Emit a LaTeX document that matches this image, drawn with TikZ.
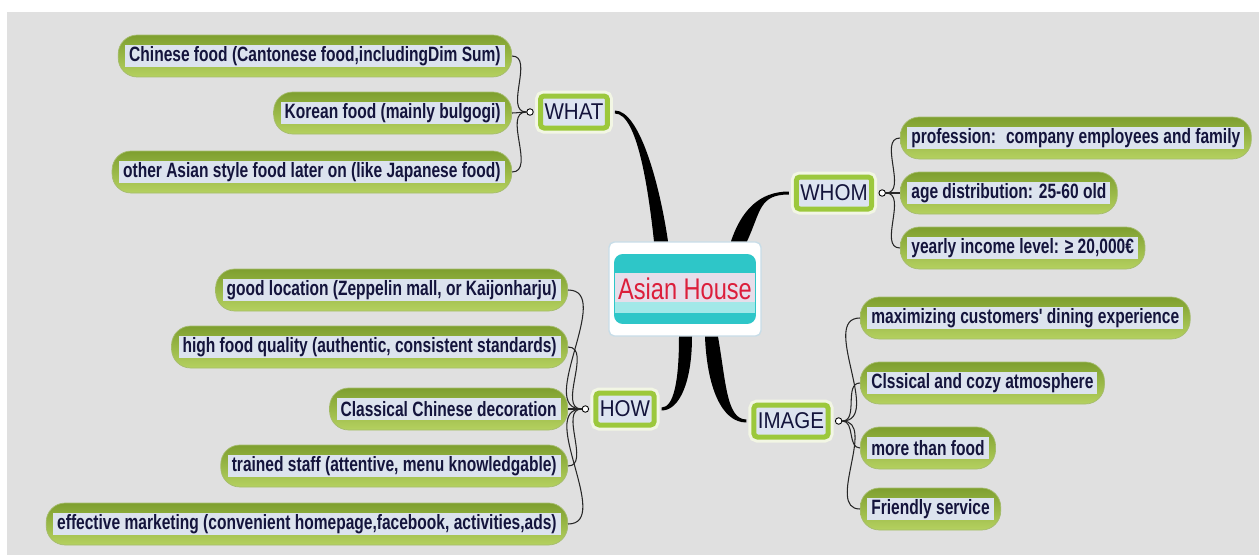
\documentclass[tikz,border=0pt]{standalone}
\usepackage{fontspec}
\usetikzlibrary{calc}
\newfontfamily\leaffont{Liberation Sans}[FakeStretch=0.75]
\newfontfamily\brfont{Liberation Sans}[FakeStretch=0.9]
\newfontfamily\hubfont{Liberation Sans}[FakeStretch=0.79]
\definecolor{bggrey}{HTML}{E0E0E0}
\definecolor{leafdark}{HTML}{7E9F2F}
\definecolor{leaflight}{HTML}{B5D160}
\definecolor{leafband}{HTML}{DCE3EE}
\definecolor{leaftext}{HTML}{14143C}
\definecolor{brgreen}{HTML}{9CC83C}
\definecolor{brframe}{HTML}{F2F6E4}
\definecolor{brfill}{HTML}{DDE4F0}
\definecolor{hubedge}{HTML}{C8DDE8}
\definecolor{hubteal}{HTML}{2EC6C8}
\definecolor{hubband}{HTML}{E6DEEA}
\definecolor{hubpale}{HTML}{A2E8E8}
\definecolor{hubred}{HTML}{DC1E3C}
\tikzset{leaf/.style={rounded corners=0.38cm, minimum height=0.84cm, inner xsep=0.22cm,
    top color=leafdark, bottom color=leaflight, draw=leafdark!70,
    font=\leaffont\bfseries\fontsize{11.8}{13}\selectfont, text=leaftext,
    path picture={\fill[leafband, sharp corners] ($(path picture bounding box.south west)+(7,-10)$)
      rectangle ($(path picture bounding box.north east)+(-7,10)$);}},
branch/.style={draw=brgreen, line width=0.1cm, fill=brfill, rounded corners=2pt,
    preaction={draw=brframe, line width=0.22cm},
    minimum height=0.64cm, inner xsep=0.08cm, inner ysep=0pt,
    font=\brfont\fontsize{13}{15}\selectfont, text=leaftext},
hub/.style={draw=hubedge, fill=white, rounded corners=3pt, line width=0.8pt,
    minimum width=3.04cm, minimum height=1.88cm,
    font=\hubfont\fontsize{17}{19}\selectfont, text=hubred,
    path picture={
      \fill[hubteal, rounded corners=5pt] ($(path picture bounding box.south west)+(5,-12)$)
        rectangle ($(path picture bounding box.north east)+(-5,12)$);
      \fill[hubpale, sharp corners] ($(path picture bounding box.west)+(6,13)$)
        rectangle ($(path picture bounding box.east)+(-6,24)$);
      \fill[hubband, sharp corners] ($(path picture bounding box.west)+(6,-16)$)
        rectangle ($(path picture bounding box.east)+(-6,13)$);}},
knob/.style={circle, draw=black, fill=white, inner sep=0pt, minimum size=0.13cm, line width=0.5pt},
twig/.style={draw=black!85, line width=0.6pt}}

\begin{document}
\begin{tikzpicture}[x=0.02cm, y=-0.02cm]
\useasboundingbox (0,0) rectangle (1259,555);
\fill[white] (0,0) rectangle (1259,555);
\fill[bggrey] (7,12) rectangle (1259,555);

\node[hub] (ah) at (685,289) {Asian House};

\node[branch] (what) at (574,112) {WHAT};
\node[branch] (whom) at (834,193) {WHOM};
\node[branch] (how) at (625,409) {HOW};
\node[branch] (image) at (791,421) {IMAGE};

% thick links from the centre
\fill ($(what.east)+(5,-1.5)$) .. controls +(25,0) and +(-8,-55) .. ($(ah.north)+(-17,0)$)
  -- ($(ah.north)+(-31,0)$) .. controls +(-6,-55) and +(22,0) .. ($(what.east)+(5,1.5)$) -- cycle;
\fill ($(ah.north)+(46,0)$) .. controls +(10,-30) and +(-30,0) .. ($(whom.west)+(-5,-1.5)$)
  -- ($(whom.west)+(-5,1.5)$) .. controls +(-30,0) and +(14,-30) .. ($(ah.north)+(62,0)$) -- cycle;
\fill ($(ah.south)+(-6,0)$) .. controls +(0,45) and +(12,0) .. ($(how.east)+(5,-1.5)$)
  -- ($(how.east)+(5,1.5)$) .. controls +(18,0) and +(0,45) .. ($(ah.south)+(7,0)$) -- cycle;
\fill ($(ah.south)+(20,0)$) .. controls +(2,50) and +(-25,0) .. ($(image.west)+(-5,1.5)$)
  -- ($(image.west)+(-5,-1.5)$) .. controls +(-20,0) and +(8,45) .. ($(ah.south)+(33,0)$) -- cycle;

% leaves
\foreach \i/\y/\t in {1/56/{Chinese food (Cantonese food,includingDim Sum)},
    2/113/{Korean food (mainly bulgogi)},
    3/172/{other Asian style food later on (like Japanese food)}}
  \node[leaf, anchor=east] (what\i) at (512,\y) {\t};

\foreach \i/\y/\t in {1/138/{profession:~ company employees and family},
    2/193/{age distribution: 25-60 old},
    3/248/{yearly income level: ≥ 20,000€}}
  \node[leaf, anchor=west] (whom\i) at (900,\y) {\t};

\foreach \i/\y/\t in {1/290/{good location (Zeppelin mall, or Kaijonharju)},
    2/347/{high food quality (authentic, consistent standards)},
    3/409/{Classical Chinese decoration},
    4/466/{trained staff (attentive, menu knowledgable)},
    5/524/{effective marketing (convenient homepage,facebook, activities,ads)}}
  \node[leaf, anchor=east] (how\i) at (568,\y) {\t};

\foreach \i/\y/\t in {1/318/{maximizing customers' dining experience},
    2/383/{Clssical and cozy atmosphere},
    3/448/{more than food},
    4/509/{Friendly service}}
  \node[leaf, anchor=west] (image\i) at (860,\y) {\t};

% knobs and thin links
\node[knob] (whatk) at ($(what.west)+(-8,0)$) {};
\node[knob] (whomk) at ($(whom.east)+(8,0)$) {};
\node[knob] (howk) at ($(how.west)+(-8,0)$) {};
\node[knob] (imagek) at ($(image.east)+(8,0)$) {};

\foreach \i in {1,2,3}
    \draw[twig] (whatk.west) to[out=180, in=0] (what\i.east);
\foreach \i in {1,2,3}
    \draw[twig] (whomk.east) to[out=0, in=180] (whom\i.west);
\foreach \i in {1,...,5}
    \draw[twig] (howk.west) to[out=180, in=0] (how\i.east);
\foreach \i in {1,...,4}
    \draw[twig] (imagek.east) to[out=0, in=180] (image\i.west);

\end{tikzpicture}
\end{document}
